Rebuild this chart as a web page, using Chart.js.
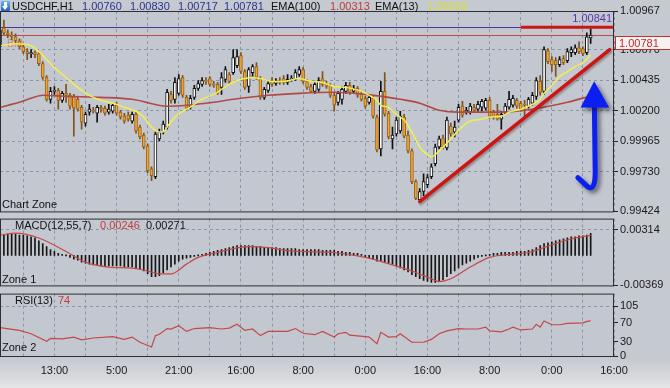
<!DOCTYPE html>
<html>
<head>
<meta charset="utf-8">
<title>USDCHF,H1</title>
<script src="https://cdn.jsdelivr.net/npm/chart.js@4.4.1/dist/chart.umd.min.js"></script>
<style>
  body { margin: 0; background: #c5c9d0; }
  #wrap { position: relative; width: 670px; height: 388px; overflow: hidden;
          background: linear-gradient(to bottom, #c5c9d0 0px, #c5c9d0 357px, #d4d6da 374px, #e4e5e7 388px);
          font-family: "Liberation Sans", Arial, sans-serif; font-size: 11px; }
  canvas { position: absolute; left: 0; }
  .t { position: absolute; white-space: nowrap; line-height: 12px; color: #111; }
  .blue { color: #2b3493; }
  .red { color: #c63a3a; }
  .icon { position: absolute; left: 1px; top: 1px; width: 9px; height: 10px;
          background: linear-gradient(#6fb2f4, #1e62c6); border-radius: 1px; }
  .icon:before { content: ""; position: absolute; left: 3px; top: 1px; width: 3px; height: 4px; background: #fff; }
  .icon:after { content: ""; position: absolute; left: 1px; top: 5px; width: 0; height: 0;
                border-left: 3.5px solid transparent; border-right: 3.5px solid transparent; border-top: 4px solid #fff; }
</style>
</head>
<body>
<div id="wrap">
  <canvas id="price" width="670" height="220" style="top:0px"></canvas>
  <canvas id="macd" width="670" height="84" style="top:210px"></canvas>
  <canvas id="rsi" width="670" height="103" style="top:285px"></canvas>

  <div class="icon"></div>
  <span class="t" style="left:12px;top:0px">USDCHF,H1</span>
  <span class="t blue" style="left:82px;top:0px">1.00760</span>
  <span class="t blue" style="left:130px;top:0px">1.00830</span>
  <span class="t blue" style="left:178px;top:0px">1.00717</span>
  <span class="t blue" style="left:224px;top:0px">1.00781</span>
  <span class="t" style="left:271px;top:0px">EMA(100)</span>
  <span class="t red" style="left:330px;top:0px">1.00313</span>
  <span class="t" style="left:375px;top:0px">EMA(13)</span>
  <span class="t" style="left:427px;top:0px;color:#dedb2c">1.00628</span>

  <span class="t" style="left:2px;top:198px">Chart Zone</span>
  <span class="t" style="left:15px;top:219px">MACD(12,55,7)</span>
  <span class="t red" style="left:100px;top:219px">0.00246</span>
  <span class="t" style="left:146px;top:219px">0.00271</span>
  <span class="t" style="left:2px;top:273px">Zone 1</span>
  <span class="t" style="left:15px;top:294px">RSI(13)</span>
  <span class="t red" style="left:58px;top:294px">74</span>
  <span class="t" style="left:2px;top:341px">Zone 2</span>
</div>

<script>
Chart.defaults.font.family = "'Liberation Sans', Arial, sans-serif";
Chart.defaults.font.size = 11;
Chart.defaults.color = '#111';

// hourly candles, bar index 0..152
const opens = [
  1.00692,1.00837,1.00799,1.00784,1.00768,1.00738,1.00692,1.00654,1.00638,1.00646,
  1.00638,1.00562,1.00455,1.00287,1.00348,1.00356,1.00279,1.00333,1.00318,1.00310,
  1.00287,1.00226,1.00104,1.00188,1.00203,1.00180,1.00226,1.00218,1.00188,1.00195,
  1.00241,1.00188,1.00157,1.00165,1.00119,1.00172,1.00073,1.00012,0.99928,0.99752,
  0.99691,0.99982,1.00035,1.00073,1.00325,1.00287,1.00333,1.00455,1.00302,1.00226,
  1.00302,1.00371,1.00402,1.00432,1.00447,1.00402,1.00402,1.00379,1.00440,1.00478,
  1.00493,1.00547,1.00623,1.00501,1.00386,1.00493,1.00539,1.00447,1.00302,1.00356,
  1.00425,1.00409,1.00425,1.00447,1.00417,1.00440,1.00440,1.00478,1.00516,1.00425,
  1.00386,1.00348,1.00363,1.00447,1.00409,1.00394,1.00318,1.00264,1.00287,1.00348,
  1.00394,1.00348,1.00371,1.00325,1.00295,1.00264,1.00295,1.00150,0.99905,1.00348,
  1.00180,0.99982,1.00020,1.00043,1.00150,1.00012,0.99890,0.99653,0.99515,0.99577,
  0.99630,0.99691,0.99791,0.99920,0.99989,0.99913,1.00081,1.00035,1.00127,1.00234,
  1.00188,1.00188,1.00226,1.00211,1.00226,1.00218,1.00279,1.00188,1.00172,1.00134,
  1.00188,1.00226,1.00241,1.00279,1.00257,1.00249,1.00234,1.00257,1.00310,1.00425,
  1.00348,1.00661,1.00593,1.00585,1.00554,1.00600,1.00585,1.00646,1.00646,1.00684,
  1.00677,1.00646,1.00760];
const highs = [
  1.00837,1.00898,1.00822,1.00806,1.00791,1.00753,1.00707,1.00677,1.00669,1.00661,
  1.00654,1.00577,1.00470,1.00379,1.00386,1.00371,1.00348,1.00402,1.00333,1.00325,
  1.00302,1.00241,1.00188,1.00249,1.00226,1.00241,1.00241,1.00234,1.00249,1.00257,
  1.00264,1.00203,1.00180,1.00188,1.00188,1.00188,1.00088,1.00027,0.99943,0.99768,
  1.00035,1.00058,1.00119,1.00363,1.00348,1.00455,1.00478,1.00470,1.00318,1.00318,
  1.00394,1.00432,1.00455,1.00455,1.00463,1.00425,1.00417,1.00493,1.00539,1.00493,
  1.00669,1.00669,1.00646,1.00516,1.00531,1.00554,1.00570,1.00463,1.00379,1.00425,
  1.00455,1.00447,1.00455,1.00470,1.00478,1.00470,1.00516,1.00539,1.00531,1.00440,
  1.00402,1.00417,1.00455,1.00501,1.00425,1.00409,1.00333,1.00348,1.00386,1.00417,
  1.00417,1.00394,1.00386,1.00341,1.00310,1.00325,1.00310,1.00165,1.00425,1.00493,
  1.00195,1.00073,1.00150,1.00195,1.00172,1.00043,0.99905,0.99668,0.99600,0.99714,
  0.99707,0.99791,0.99943,1.00004,1.00012,1.00150,1.00104,1.00119,1.00249,1.00272,
  1.00226,1.00257,1.00249,1.00272,1.00287,1.00295,1.00302,1.00203,1.00249,1.00195,
  1.00257,1.00348,1.00318,1.00295,1.00272,1.00279,1.00302,1.00341,1.00455,1.00470,
  1.00692,1.00677,1.00616,1.00608,1.00616,1.00623,1.00677,1.00692,1.00707,1.00730,
  1.00692,1.00799,1.00830];
const lows = [
  1.00684,1.00784,1.00761,1.00745,1.00722,1.00677,1.00638,1.00593,1.00608,1.00608,
  1.00547,1.00440,1.00272,1.00257,1.00325,1.00211,1.00264,1.00264,1.00211,1.00004,
  1.00195,1.00058,1.00081,1.00165,1.00180,1.00111,1.00188,1.00165,1.00172,1.00180,
  1.00165,1.00134,1.00104,1.00119,1.00104,1.00027,0.99982,0.99905,0.99722,0.99661,
  0.99676,0.99966,1.00020,1.00058,1.00257,1.00257,1.00318,1.00302,1.00203,1.00211,
  1.00287,1.00356,1.00386,1.00402,1.00386,1.00379,1.00325,1.00325,1.00417,1.00409,
  1.00478,1.00531,1.00486,1.00363,1.00341,1.00463,1.00440,1.00287,1.00287,1.00341,
  1.00386,1.00394,1.00402,1.00402,1.00402,1.00425,1.00432,1.00463,1.00409,1.00363,
  1.00341,1.00333,1.00348,1.00386,1.00371,1.00302,1.00195,1.00241,1.00249,1.00333,
  1.00325,1.00333,1.00302,1.00272,1.00218,1.00249,1.00142,0.99882,0.99852,1.00157,
  0.99982,0.99905,1.00004,1.00027,0.99989,0.99875,0.99638,0.99515,0.99492,0.99546,
  0.99607,0.99676,0.99775,0.99905,0.99905,0.99897,1.00004,0.99997,1.00111,1.00150,
  1.00172,1.00172,1.00188,1.00195,1.00195,1.00203,1.00142,1.00134,1.00127,1.00058,
  1.00172,1.00211,1.00226,1.00218,1.00195,1.00150,1.00218,1.00241,1.00287,1.00318,
  1.00325,1.00562,1.00501,1.00463,1.00539,1.00554,1.00570,1.00616,1.00631,1.00638,
  1.00623,1.00631,1.00717];
const closes = [
  1.00822,1.00799,1.00784,1.00768,1.00738,1.00692,1.00654,1.00638,1.00646,1.00631,
  1.00562,1.00455,1.00287,1.00348,1.00356,1.00279,1.00333,1.00318,1.00234,1.00218,
  1.00211,1.00111,1.00172,1.00211,1.00195,1.00226,1.00211,1.00180,1.00211,1.00241,
  1.00180,1.00150,1.00119,1.00134,1.00172,1.00043,0.99997,0.99920,0.99737,0.99699,
  1.00020,1.00035,1.00096,1.00341,1.00279,1.00417,1.00447,1.00318,1.00218,1.00295,
  1.00371,1.00409,1.00432,1.00425,1.00402,1.00394,1.00341,1.00455,1.00516,1.00425,
  1.00608,1.00616,1.00501,1.00379,1.00516,1.00539,1.00455,1.00302,1.00363,1.00409,
  1.00402,1.00425,1.00417,1.00417,1.00440,1.00447,1.00493,1.00516,1.00425,1.00379,
  1.00348,1.00402,1.00432,1.00402,1.00386,1.00318,1.00241,1.00333,1.00363,1.00394,
  1.00341,1.00371,1.00318,1.00287,1.00234,1.00302,1.00157,0.99897,1.00348,1.00172,
  0.99997,1.00012,1.00127,1.00157,1.00004,0.99890,0.99653,0.99523,0.99577,0.99653,
  0.99684,0.99768,0.99920,0.99982,0.99920,1.00127,1.00020,1.00073,1.00226,1.00165,
  1.00203,1.00234,1.00203,1.00249,1.00272,1.00279,1.00157,1.00150,1.00134,1.00172,
  1.00234,1.00287,1.00295,1.00234,1.00211,1.00241,1.00287,1.00318,1.00432,1.00341,
  1.00669,1.00577,1.00554,1.00554,1.00593,1.00570,1.00654,1.00669,1.00684,1.00654,
  1.00638,1.00768,1.00781];

// moving averages, read at selected bars
const ema100Bars = [0,5,8,11,17,26,34,43,48,55,60,69,77,86,94,100,103,108,113,118,129,137,146,152];
const ema100 = [1.00226,1.00264,1.00295,1.00318,1.00310,1.00302,1.00287,1.00234,1.00241,1.00264,1.00287,1.00318,
  1.00333,1.00341,1.00325,1.00302,1.00287,1.00257,1.00203,1.00188,1.00188,1.00211,1.00264,1.00313];
const ema13Bars = [0,4,8,10,12,14,17,20,23,26,29,32,35,37,39,41,42,43,45,47,49,51,53,55,57,59,61,63,65,67,
  70,73,77,80,83,86,89,93,95,97,98,100,101,103,104,106,108,110,111,113,116,118,121,124,126,129,131,134,137,139,
  140,142,144,146,148,150,152];
const ema13 = [1.00700,1.00715,1.00700,1.00654,1.00593,1.00531,1.00455,1.00379,1.00318,1.00279,
  1.00257,1.00226,1.00195,1.00150,1.00073,1.00035,1.00035,1.00073,1.00150,1.00195,
  1.00226,1.00272,1.00302,1.00325,1.00363,1.00402,1.00432,1.00447,1.00455,1.00447,
  1.00425,1.00425,1.00447,1.00425,1.00417,1.00386,1.00379,1.00348,1.00318,1.00279,
  1.00241,1.00226,1.00195,1.00150,1.00127,1.00035,0.99920,0.99859,0.99844,0.99890,
  0.99982,1.00050,1.00119,1.00134,1.00150,1.00157,1.00188,1.00211,1.00249,1.00287,
  1.00333,1.00394,1.00463,1.00501,1.00539,1.00570,1.00628];

// MACD(12,55,7)
const macdHist = [
  0.00238,0.00250,0.00262,0.00262,0.00262,0.00250,0.00250,0.00238,0.00226,0.00214,
  0.00179,0.00143,0.00107,0.00071,0.00048,0.00024,0.00012,0,-0.00024,-0.00048,
  -0.00060,-0.00083,-0.00095,-0.00107,-0.00119,-0.00119,-0.00131,-0.00131,-0.00131,-0.00131,
  -0.00131,-0.00131,-0.00143,-0.00143,-0.00143,-0.00155,-0.00167,-0.00190,-0.00226,-0.00262,
  -0.00262,-0.00250,-0.00214,-0.00179,-0.00143,-0.00107,-0.00071,-0.00048,-0.00036,-0.00024,
  -0.00012,0,0.00012,0.00024,0.00036,0.00048,0.00060,0.00071,0.00083,0.00095,
  0.00107,0.00119,0.00119,0.00119,0.00119,0.00119,0.00107,0.00107,0.00095,0.00095,
  0.00095,0.00095,0.00083,0.00083,0.00083,0.00083,0.00083,0.00071,0.00071,0.00071,
  0.00071,0.00071,0.00071,0.00060,0.00060,0.00060,0.00060,0.00048,0.00048,0.00036,
  0.00036,0.00024,0.00024,0.00012,-0.00024,-0.00036,-0.00048,-0.00071,-0.00071,-0.00083,
  -0.00095,-0.00107,-0.00131,-0.00155,-0.00179,-0.00202,-0.00238,-0.00262,-0.00286,-0.00309,
  -0.00321,-0.00333,-0.00333,-0.00321,-0.00298,-0.00262,-0.00226,-0.00190,-0.00155,-0.00119,
  -0.00095,-0.00071,-0.00048,-0.00024,-0.00012,0,0.00012,0.00024,0.00024,0.00036,
  0.00036,0.00036,0.00036,0.00048,0.00048,0.00048,0.00060,0.00071,0.00095,0.00119,
  0.00143,0.00155,0.00167,0.00179,0.00190,0.00202,0.00214,0.00226,0.00226,0.00238,
  0.00238,0.00250,0.00271];
const signalBars = [0,4,10,17,22,28,34,38,41,44,48,51,56,60,64,69,74,79,86,94,102,106,111,113,116,121,126,131,136,142,147,152];
const macdSignal = [0.00249,0.00273,0.00213,0.00046,-0.00084,-0.00144,-0.00156,-0.00192,-0.00227,-0.00227,
  -0.00108,-0.00025,0.00035,0.00082,0.00106,0.00094,0.00058,0.00046,0.00035,-0.00025,
  -0.00132,-0.00192,-0.00287,-0.00322,-0.00287,-0.00144,-0.00025,0.00011,0.00035,0.00130,
  0.00201,0.00246];

// RSI(13)
const rsiBars = [0,5,8,12,13,16,19,21,24,29,32,34,36,39,40,41,43,44,46,48,50,54,57,59,61,63,65,67,69,74,
  76,78,81,83,86,87,89,90,94,95,97,98,100,102,103,106,109,111,113,115,118,120,123,125,126,129,131,132,134,137,
  138,139,140,142,144,146,150,151,152];
const rsi = [60,54,47,31,37,36,40,34,38,41,35,40,29,19,43,46,58,57,64,52,58,60,57,59,67,54,57,43,52,52,
  58,48,45,52,40,47,50,44,41,40,26,50,40,41,47,29,29,35,47,53,58,57,57,61,53,51,57,61,55,57,
  67,61,74,66,66,69,70,73,74];

// axes
const priceTicks = [0.99424, 0.99730, 0.99965, 1.00200, 1.00435, 1.00670, 1.00967];
const macdTicks = [-0.00369, 0.00314];
const rsiTicks = [0, 30, 70, 105];
const timeLabels = ['13:00', '5:00', '21:00', '16:00', '8:00', '0:00', '16:00', '8:00', '0:00', '16:00'];
const labelBars = [14, 30, 46, 62, 78, 94, 110, 126, 142, 158];
const gridBars = [6, 14, 22, 30, 38, 46, 54, 62, 70, 78, 86, 94, 102, 110, 118, 126, 134, 142, 150, 158];

// drawn objects
const dayHigh = 1.00841;
const lastPrice = 1.00781;
const trendLine = [[108, 0.99500], [156.9, 1.00669]];
const arrowHead = [[152.9, 1.00427], [149.4, 1.00224], [156.75, 1.00224]];
const arrowShaft = [[152.95, 1.00234], [153.15, 0.99760], [153.35, 0.99569], [151.2, 0.99615], [148.7, 0.99684]];

const gridColor = '#8c95a6';
const panelBg = '#c3c7cf';

const pts = (xs, ys) => xs.map((x, k) => ({ x: x, y: ys[k] }));
const up = i => closes[i] >= opens[i];

function timeAxis(showLabels) {
  return {
    type: 'linear', min: 0, max: 158, offset: false,
    afterBuildTicks: s => { s.ticks = gridBars.map(v => ({ value: v })); },
    afterFit: s => { s.height = showLabels ? 32 : 0; },
    grid: { color: gridColor, offset: false, drawTicks: false },
    border: { display: false, dash: [3, 3] },
    ticks: {
      display: showLabels, autoSkip: false, maxRotation: 0, padding: 8, color: '#1a1a1a',
      callback: v => { const k = labelBars.indexOf(v); return k < 0 ? '' : timeLabels[k]; }
    }
  };
}

function valueAxis(min, max, ticks, fmt, gridAt) {
  return {
    position: 'right', min: min, max: max,
    afterBuildTicks: s => { s.ticks = ticks.map(v => ({ value: v })); },
    afterFit: s => { s.width = 56; },
    grid: {
      color: c => (c.tick && gridAt(c.tick.value)) ? gridColor : 'rgba(0,0,0,0)',
      tickColor: '#222', tickLength: 4, tickWidth: 1, tickBorderDash: [4, 0]
    },
    border: { display: false, dash: [3, 3] },
    ticks: { padding: 2, color: '#1a1a1a', callback: fmt }
  };
}

const panel = {
  id: 'panel',
  beforeDraw(chart) {
    const a = chart.chartArea, ctx = chart.ctx;
    ctx.save();
    ctx.fillStyle = panelBg;
    ctx.fillRect(a.left, a.top, a.right - a.left, a.bottom - a.top);
    ctx.restore();
  },
  afterDraw(chart) {
    const a = chart.chartArea, ctx = chart.ctx;
    ctx.save();
    ctx.strokeStyle = '#2e2f33';
    ctx.lineWidth = 1;
    ctx.strokeRect(a.left + 0.5, a.top + 0.5, a.right - a.left - 1, a.bottom - a.top);
    ctx.restore();
  }
};

const priceMarks = {
  id: 'priceMarks',
  beforeDatasetsDraw(chart) {
    const ctx = chart.ctx, a = chart.chartArea, y = chart.scales.y;
    const yh = Math.round(y.getPixelForValue(dayHigh)) + 0.5;
    const yc = Math.round(y.getPixelForValue(lastPrice)) + 0.5;
    ctx.save();
    ctx.font = "11px 'Liberation Sans', Arial, sans-serif";
    ctx.textBaseline = 'middle';
    ctx.fillStyle = 'rgba(216,118,112,0.8)';
    ctx.fillText('Bid', a.left + 7, yc + 8.5);
    ctx.lineWidth = 1;
    ctx.strokeStyle = '#5b2e9e';
    ctx.beginPath(); ctx.moveTo(a.left, yh); ctx.lineTo(a.right, yh); ctx.stroke();
    ctx.strokeStyle = '#c34848';
    ctx.beginPath(); ctx.moveTo(a.left, yc); ctx.lineTo(a.right, yc); ctx.stroke();
    ctx.restore();
  },
  afterDatasetsDraw(chart) {
    const ctx = chart.ctx, a = chart.chartArea, x = chart.scales.x, y = chart.scales.y;
    const P = p => [x.getPixelForValue(p[0]), y.getPixelForValue(p[1])];
    ctx.save();
    ctx.beginPath();
    ctx.rect(a.left, a.top, a.right - a.left, a.bottom - a.top);
    ctx.clip();
    // thick level at the high
    ctx.strokeStyle = '#cf1414';
    ctx.lineWidth = 3;
    const yh = y.getPixelForValue(dayHigh);
    ctx.beginPath(); ctx.moveTo(x.getPixelForValue(134), yh); ctx.lineTo(a.right, yh); ctx.stroke();
    // trend line
    ctx.shadowColor = 'rgba(40,30,30,0.35)';
    ctx.shadowBlur = 2; ctx.shadowOffsetX = 1; ctx.shadowOffsetY = 2;
    ctx.lineWidth = 3.5;
    ctx.lineCap = 'round';
    const t0 = P(trendLine[0]), t1 = P(trendLine[1]);
    ctx.beginPath(); ctx.moveTo(t0[0], t0[1]); ctx.lineTo(t1[0], t1[1]); ctx.stroke();
    // blue arrow
    ctx.shadowColor = 'rgba(20,20,40,0.55)';
    ctx.shadowBlur = 4; ctx.shadowOffsetX = 3; ctx.shadowOffsetY = 3;
    ctx.fillStyle = '#0c1ff2';
    ctx.strokeStyle = '#0c1ff2';
    const s = arrowShaft.map(P);
    ctx.lineWidth = 5;
    ctx.lineJoin = 'round';
    ctx.beginPath();
    ctx.moveTo(s[0][0], s[0][1]);
    ctx.lineTo(s[1][0], s[1][1]);
    ctx.quadraticCurveTo(s[2][0], s[2][1], s[3][0], s[3][1]);
    ctx.lineTo(s[4][0], s[4][1]);
    ctx.stroke();
    const h = arrowHead.map(P);
    ctx.beginPath();
    ctx.moveTo(h[0][0], h[0][1]); ctx.lineTo(h[1][0], h[1][1]); ctx.lineTo(h[2][0], h[2][1]);
    ctx.closePath();
    ctx.fill();
    ctx.restore();
  },
  afterDraw(chart) {
    const ctx = chart.ctx, a = chart.chartArea, y = chart.scales.y;
    const yh = y.getPixelForValue(dayHigh);
    const yc = Math.round(y.getPixelForValue(lastPrice));
    ctx.save();
    ctx.font = "11px 'Liberation Sans', Arial, sans-serif";
    ctx.textBaseline = 'middle';
    ctx.textAlign = 'right';
    ctx.fillStyle = '#5a36a8';
    ctx.fillText(dayHigh.toFixed(5), a.right - 2, yh - 8);
    ctx.fillStyle = '#f6f2f2';
    ctx.fillRect(a.right + 1, yc + 1, 56, 14);
    ctx.strokeStyle = '#c53030';
    ctx.lineWidth = 1;
    ctx.strokeRect(a.right + 1.5, yc + 1.5, 55, 13);
    ctx.textAlign = 'left';
    ctx.fillStyle = '#c42a2a';
    ctx.fillText(lastPrice.toFixed(5), a.right + 5, yc + 8.5);
    ctx.restore();
  }
};

const baseOptions = (padTop, padBottom) => ({
  responsive: false,
  animation: false,
  events: [],
  layout: { padding: { top: padTop, bottom: padBottom, left: 0, right: 0 } },
  plugins: { legend: { display: false }, tooltip: { enabled: false } }
});

// price panel
const priceOpts = baseOptions(11, 7);
priceOpts.scales = {
  x: timeAxis(false),
  y: valueAxis(0.99424, 1.00967, priceTicks, v => v.toFixed(5),
               v => v !== priceTicks[0] && v !== priceTicks[priceTicks.length - 1])
};
new Chart(document.getElementById('price'), {
  type: 'bar',
  data: {
    datasets: [
      { type: 'line', label: 'EMA(13)', data: pts(ema13Bars, ema13), borderColor: '#f2ee4e',
        borderWidth: 1.5, pointRadius: 0, cubicInterpolationMode: 'monotone', order: 0 },
      { type: 'line', label: 'EMA(100)', data: pts(ema100Bars, ema100), borderColor: '#b24848',
        borderWidth: 1.6, pointRadius: 0, cubicInterpolationMode: 'monotone', order: 0 },
      { label: 'body', data: opens.map((o, i) => ({ x: i, y: [o, closes[i]] })),
        grouped: false, barThickness: 3, minBarLength: 1, borderWidth: 1, borderSkipped: false,
        backgroundColor: c => up(c.dataIndex) ? '#ffffff' : '#f2a332',
        borderColor: c => up(c.dataIndex) ? '#111111' : '#9a6418', order: 1 },
      { label: 'wick', data: opens.map((o, i) => ({ x: i, y: [lows[i], highs[i]] })),
        grouped: false, barThickness: 1,
        backgroundColor: c => up(c.dataIndex) ? '#111111' : '#7c5319', order: 2 }
    ]
  },
  options: priceOpts,
  plugins: [panel, priceMarks]
});

// MACD panel
const macdOpts = baseOptions(8, 7);
macdOpts.scales = {
  x: timeAxis(false),
  y: valueAxis(-0.00369, 0.00451, macdTicks, v => v.toFixed(5), v => v === 0.00314)
};
new Chart(document.getElementById('macd'), {
  type: 'bar',
  data: {
    datasets: [
      { type: 'line', label: 'signal', data: pts(signalBars, macdSignal), borderColor: '#c44a4a',
        borderWidth: 1.2, pointRadius: 0, cubicInterpolationMode: 'monotone', order: 0 },
      { label: 'MACD', data: macdHist.map((v, i) => ({ x: i, y: v })), grouped: false,
        barThickness: 1, minBarLength: 1, backgroundColor: '#161616', order: 1 }
    ]
  },
  options: macdOpts,
  plugins: [panel]
});

// RSI panel
const rsiOpts = baseOptions(7, 0);
rsiOpts.scales = {
  x: timeAxis(true),
  y: valueAxis(0, 131.8, rsiTicks, v => String(v), v => v === 105)
};
new Chart(document.getElementById('rsi'), {
  type: 'line',
  data: {
    datasets: [
      { label: 'RSI(13)', data: pts(rsiBars, rsi), borderColor: '#c44848', borderWidth: 1.2,
        pointRadius: 0, tension: 0 }
    ]
  },
  options: rsiOpts,
  plugins: [panel]
});
</script>
</body>
</html>
